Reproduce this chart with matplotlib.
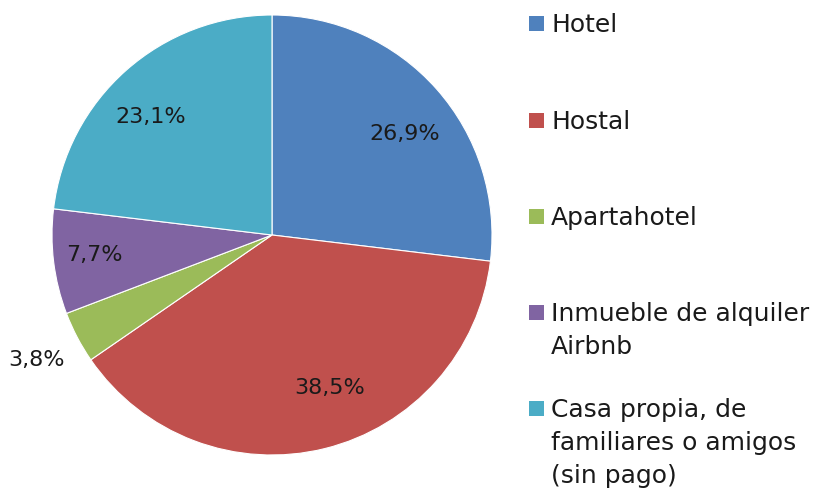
import matplotlib
matplotlib.use("Agg")
import matplotlib.pyplot as plt
import numpy as np
from matplotlib.patches import Rectangle

categories = ["Hotel", "Hostal", "Apartahotel", "Inmueble de alquiler\nAirbnb",
              "Casa propia, de\nfamiliares o amigos\n(sin pago)"]
values = [26.9, 38.5, 3.8, 7.7, 23.1]
pct_labels = ["26,9%", "38,5%", "3,8%", "7,7%", "23,1%"]
colors = ["#4F81BD", "#C0504D", "#9BBB59", "#8064A2", "#4BACC6"]
label_radius = [0.76, 0.74, 1.21, 0.81, 0.77]
label_angle_shift = [-4, 7, 0, -1, 4]

plt.rcParams['font.family'] = ['DejaVu Sans']
FS = 16
FS_LEG = 18

W, H = 820, 489
fig = plt.figure(figsize=(W/100, H/100), dpi=100)
cx, cy, R = 272, 236, 220
ax = fig.add_axes([(cx-R)/W, (H-(cy+R))/H, 2*R/W, 2*R/H])
wedges, _ = ax.pie(values, colors=colors, startangle=90, counterclock=False,
                   radius=1, wedgeprops=dict(edgecolor="white", linewidth=0.8))
ax.set_xlim(-1, 1)
ax.set_ylim(-1, 1)
ax.set_aspect("equal")
ax.axis("off")

for w, lab, r, sh in zip(wedges, pct_labels, label_radius, label_angle_shift):
    ang = np.deg2rad((w.theta1 + w.theta2) / 2 + sh)
    ax.text(r*np.cos(ang), r*np.sin(ang), lab, ha="center", va="center",
            fontsize=FS, color="#1a1a1a", clip_on=False)

# legend
row_y = [25, 122, 218, 314, 410]
line_h = 33
for name, col, y in zip(categories, colors, row_y):
    fig.patches.append(Rectangle((529/W, 1-(y+7)/H), 15/W, 15/H,
                                 transform=fig.transFigure, facecolor=col, edgecolor="none"))
    for i, line in enumerate(name.split("\n")):
        fig.text(551/W, 1-(y+i*line_h)/H, line, ha="left", va="center",
                 fontsize=FS_LEG, color="#1a1a1a")

fig.savefig("out.png", dpi=100)
